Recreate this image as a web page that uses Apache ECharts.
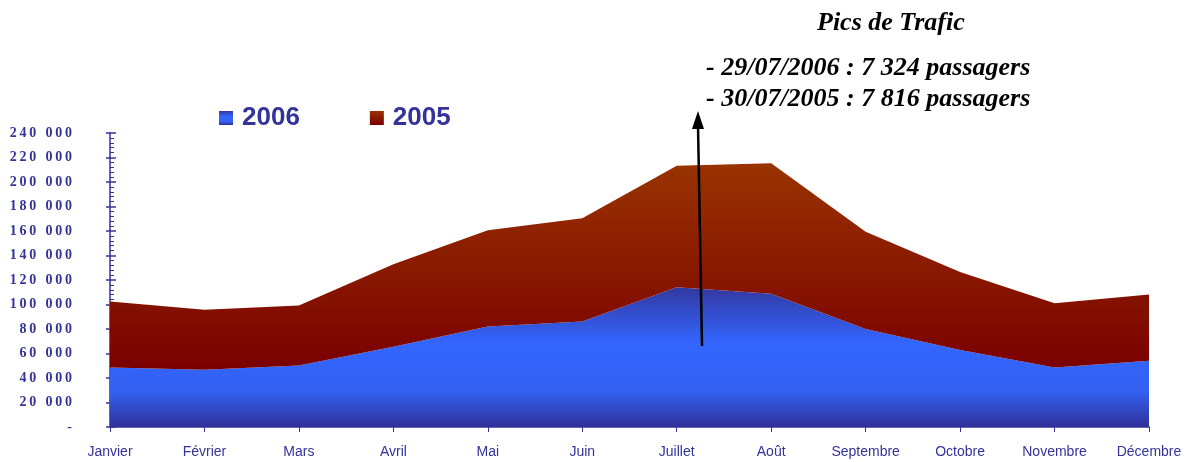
<!DOCTYPE html>
<html>
<head>
<meta charset="utf-8">
<script src="https://cdn.jsdelivr.net/npm/echarts@6/dist/echarts.min.js"></script>
<style>
html, body { margin: 0; padding: 0; background: #fff; }
#chart { width: 1194px; height: 462px; }
</style>
</head>
<body>
<div id="chart"></div>
<script>
var months = ['Janvier', 'Février', 'Mars', 'Avril', 'Mai', 'Juin', 'Juillet', 'Août', 'Septembre', 'Octobre', 'Novembre', 'Décembre'];
// passagers par mois
var trafic2006 = [48600, 46700, 50300, 65600, 82000, 86100, 114000, 108800, 80100, 62900, 48600, 54100];
var trafic2005 = [53900, 49000, 48900, 67200, 78700, 84400, 99200, 106600, 79200, 63600, 52500, 54100];
var pics = ['- 29/07/2006 : 7 324 passagers', '- 30/07/2005 : 7 816 passagers'];

var bleu = '#333399';

var chart = echarts.init(document.getElementById('chart'));

// "240 000" -> chiffres espaces comme sur l'original
function fmtY(v) {
    if (v === 0) return '-';
    var s = String(v).replace(/\B(?=(\d{3})+(?!\d))/g, ' ');
    return s.split('').join('\u2009');
}

var gradBleu = new echarts.graphic.LinearGradient(0, 0, 0, 1, [
    {offset: 0, color: '#3338a0'},
    {offset: 0.4, color: '#3366ff'},
    {offset: 0.75, color: '#3360f0'},
    {offset: 1, color: '#30309a'}
]);
var gradRouge = new echarts.graphic.LinearGradient(0, 0, 0, 1, [
    {offset: 0, color: '#993300'},
    {offset: 1, color: '#7a0000'}
]);

chart.setOption({
    animation: false,
    legend: {
        left: 214,
        top: 100,
        itemWidth: 14,
        itemHeight: 14,
        itemGap: 70,
        icon: 'rect',
        data: ['2006', '2005'],
        textStyle: {
            color: bleu,
            fontFamily: 'Liberation Sans',
            fontWeight: 'bold',
            fontSize: 26,
            padding: [0, 0, 0, 4]
        }
    },
    grid: {left: 110, right: 45, top: 133, bottom: 35},
    xAxis: {
        type: 'category',
        boundaryGap: false,
        data: months,
        axisLine: {lineStyle: {color: bleu, width: 1.5}},
        axisTick: {show: true, length: 5, lineStyle: {color: bleu}},
        axisLabel: {
            color: bleu,
            fontFamily: 'Liberation Sans',
            fontSize: 14,
            margin: 18
        }
    },
    yAxis: [
        {
            type: 'value',
            min: 0,
            max: 240000,
            interval: 20000,
            splitLine: {show: false},
            axisLine: {show: true, lineStyle: {color: bleu, width: 1.5}},
            axisTick: {show: true, length: 4, lineStyle: {color: bleu, width: 1.5}},
            axisLabel: {
                formatter: fmtY,
                color: bleu,
                fontFamily: 'Liberation Serif',
                fontWeight: 'bold',
                fontSize: 14,
                margin: 38
            }
        },
        {
            type: 'value',
            position: 'left',
            min: 0,
            max: 240000,
            interval: 20000,
            splitLine: {show: false},
            axisLine: {show: false},
            axisLabel: {show: false},
            axisTick: {show: true, inside: true, length: 6, lineStyle: {color: bleu, width: 1.5}},
            minorTick: {show: true, splitNumber: 5, length: 4, lineStyle: {color: bleu}}
        }
    ],
    series: [
        {
            name: '2006',
            type: 'line',
            stack: 'total',
            data: trafic2006,
            symbol: 'none',
            lineStyle: {width: 0},
            itemStyle: {color: gradBleu},
            areaStyle: {color: gradBleu, opacity: 1}
        },
        {
            name: '2005',
            type: 'line',
            stack: 'total',
            data: trafic2005,
            symbol: 'none',
            lineStyle: {width: 0},
            itemStyle: {color: gradRouge},
            areaStyle: {color: gradRouge, opacity: 1}
        }
    ],
    graphic: [
        {
            type: 'text',
            left: 817,
            top: 10,
            z: 100,
            style: {
                text: 'Pics de Trafic',
                fill: '#000',
                font: 'italic bold 26px "Liberation Serif"'
            }
        },
        {
            type: 'text',
            left: 706,
            top: 53,
            z: 100,
            style: {
                text: pics.join('\n'),
                fill: '#000',
                lineHeight: 31,
                font: 'italic bold 26px "Liberation Serif"'
            }
        },
        {
            type: 'line',
            z: 100,
            shape: {x1: 702, y1: 346, x2: 698, y2: 125},
            style: {stroke: '#000', lineWidth: 2.5}
        },
        {
            type: 'polygon',
            z: 100,
            shape: {points: [[698, 111], [692, 129], [704, 129]]},
            style: {fill: '#000'}
        }
    ]
});
</script>
</body>
</html>
